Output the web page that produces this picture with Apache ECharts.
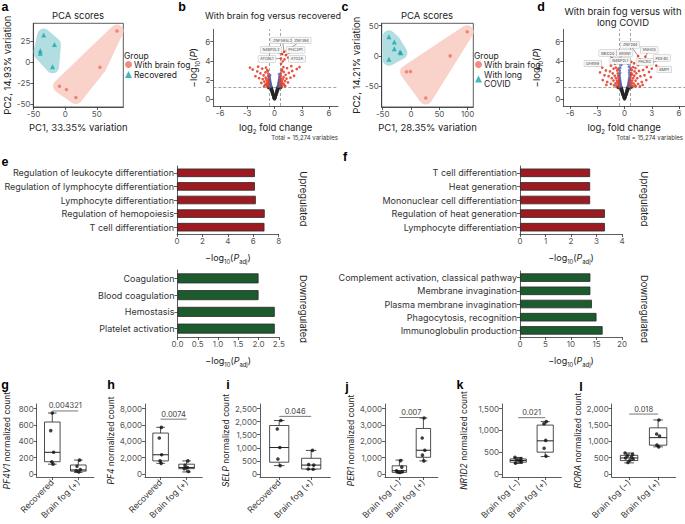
<!DOCTYPE html>
<html><head><meta charset="utf-8">
<script src="https://cdn.jsdelivr.net/npm/echarts@6/dist/echarts.min.js"></script>
<style>html,body{margin:0;padding:0;background:#fff}#c{width:685px;height:524px}</style>
</head><body><div id="c"></div>
<script>
const FONT = 'Inter, "Open Sans", sans-serif';
// ---------- a: PCA, with brain fog vs recovered
const pcaAFog = [[82,37],[55,-6],[-9,-28.5],[2,-32.5],[17,-42]];
const pcaARec = [[-34,32],[-17,21],[-39.5,13.5],[-39.5,10.5],[-20,-5.5]];
const pcaATicksX = [-50,0,50];
const pcaATicksY = [-50,-25,0,25];
// ---------- c: PCA, with brain fog vs long COVID
const pcaCFog = [[99,40],[69,0],[-1,-26],[-8,-26.5],[26,-70]];
const pcaCLong = [[-39,31.5],[-29.5,23],[-29.5,12],[-19.5,6.5],[-18,5],[-39,-5.5]];
const pcaCTicksX = [-50,0,50,100];
const pcaCTicksY = [-50,0,50];
// ---------- volcano axes
const volcTicksX = [-6,-3,0,3,6];
const volcTicksY = [0,2,4,6];
// ---------- b: volcano, brain fog vs recovered
const volcBBlack = [[0,0.02],[-0.03,0.1],[0.03,0.08],[-0.06,0.2],[0.06,0.18],[-0.09,0.3],[0.09,0.32],[-0.12,0.42],[0.12,0.4],[-0.15,0.52],[0.15,0.54],[-0.18,0.62],[0.18,0.64],[-0.21,0.74],[0.21,0.72],[-0.24,0.84],[0.24,0.86],[-0.27,0.95],[0.27,0.93],[-0.3,1.05],[0.3,1.07],[-0.33,1.15],[0.33,1.17],[-0.36,1.25],[0.36,1.24],[-0.1,0.22],[0.1,0.24],[-0.17,0.45],[0.17,0.43],[-0.23,0.66],[0.23,0.64],[-0.3,0.85],[0.3,0.83],[-0.37,1.04],[0.37,1.02],[-0.44,1.2],[0.44,1.18],[-0.08,0.12],[0.08,0.14],[-0.2,0.5],[0.2,0.52],[-0.28,0.72],[0.28,0.74],[-0.35,0.92],[0.35,0.94],[-0.42,1.1],[0.42,1.12],[-0.5,1.22],[0.5,1.25],[-0.62,1.18],[0.64,1.2],[-0.7,1.26],[0.72,1.24]];
const volcBBlue = [[-0.38,1.35],[0.38,1.34],[-0.4,1.45],[0.41,1.47],[-0.43,1.56],[0.43,1.58],[-0.45,1.68],[0.46,1.7],[-0.48,1.8],[0.48,1.82],[-0.5,1.93],[0.5,1.95],[-0.52,2.06],[0.53,2.08],[-0.54,2.2],[0.55,2.22],[-0.56,2.36],[0.56,2.38],[-0.47,1.4],[0.48,1.42],[-0.52,1.55],[0.53,1.6],[-0.55,1.75],[0.56,1.8],[-0.57,1.95],[0.57,2.0],[-0.5,2.5],[0.52,2.6]];
const volcBRed = [[-0.6,1.35],[-0.62,1.55],[-0.64,1.75],[-0.63,1.95],[-0.66,2.15],[-0.7,2.4],[-0.72,1.45],[-0.76,1.65],[-0.8,1.85],[-0.84,1.4],[-0.88,2.05],[-0.92,1.6],[-0.98,2.25],[-1.05,1.5],[-1.12,1.85],[-1.2,2.5],[-1.3,2.1],[-1.45,1.7],[-1.55,2.7],[-1.7,2.2],[-1.9,2.9],[-2.1,2.4],[-2.4,3.1],[-1.0,2.8],[-0.8,3.05],[-0.68,2.65],[-1.35,3.2],[-1.8,3.4],[-2.7,3.3],[-0.75,2.9],[-1.15,1.35],[-0.95,3.3],
 [0.6,1.38],[0.62,1.6],[0.64,1.8],[0.65,2.0],[0.67,2.2],[0.7,2.45],[0.73,1.5],[0.77,1.7],[0.8,1.9],[0.85,1.42],[0.9,2.1],[0.93,1.65],[1.0,2.3],[1.07,1.52],[1.15,1.9],[1.22,2.55],[1.32,2.15],[1.48,1.75],[1.58,2.75],[1.75,2.25],[1.95,2.95],[2.15,2.45],[2.45,3.15],[1.02,2.85],[0.82,3.1],[0.69,2.7],[1.38,3.25],[1.85,3.45],[2.75,3.35],[0.78,2.95],[1.18,1.36],[0.98,3.35],[0.72,3.7],[0.9,3.95],[1.1,4.15]];
const volcBGenes = ['ZNF595L2','ZNF394','N4BP2L2','PHC3P1','ATG9L1','ATG2A'];
const volcBGenePts = [[1.05,4.95],[1.35,5.05],[0.85,4.7],[1.25,4.6],[0.7,4.25],[1.5,4.35]];
const volcBGeneLabelAt = [[0.88,6.13],[2.97,6.13],[-0.39,5.14],[2.31,5.14],[-0.83,4.2],[2.48,4.2]];
// ---------- d: volcano, brain fog vs long COVID
const volcDBlack = [[0,0.02],[-0.03,0.1],[0.03,0.09],[-0.06,0.2],[0.06,0.19],[-0.09,0.31],[0.09,0.3],[-0.12,0.41],[0.12,0.42],[-0.15,0.53],[0.15,0.52],[-0.18,0.63],[0.18,0.62],[-0.21,0.73],[0.21,0.74],[-0.24,0.85],[0.24,0.84],[-0.27,0.94],[0.27,0.95],[-0.3,1.06],[0.3,1.05],[-0.33,1.16],[0.33,1.15],[-0.36,1.24],[0.36,1.26],[-0.1,0.23],[0.1,0.22],[-0.17,0.44],[0.17,0.45],[-0.23,0.65],[0.23,0.66],[-0.3,0.84],[0.3,0.85],[-0.37,1.03],[0.37,1.04],[-0.44,1.19],[0.44,1.2],[-0.2,0.51],[0.2,0.5],[-0.28,0.73],[0.28,0.72],[-0.35,0.93],[0.35,0.92],[-0.42,1.11],[0.42,1.1],[-0.5,1.24],[0.5,1.22],[-0.6,1.2],[0.62,1.18],[-0.75,1.25],[0.8,1.27]];
const volcDBlue = [[-0.4,1.35],[0.4,1.36],[-0.42,1.5],[0.43,1.52],[-0.45,1.65],[0.45,1.67],[-0.47,1.8],[0.48,1.82],[-0.5,1.95],[0.5,1.97],[-0.52,2.1],[0.52,2.12],[-0.53,2.3],[0.54,2.3],[-0.55,2.5],[0.55,2.55],[-0.5,2.75],[0.52,2.8],[-0.54,3.0],[0.54,3.05],[-0.45,1.42],[0.47,1.45],[-0.5,1.6],[0.51,1.62],[-0.53,1.85],[0.54,1.88],[-0.48,3.3],[0.5,3.4],[-0.35,3.6],[0.42,3.7],[-0.25,3.9]];
const volcDRed = [[-0.58,1.35],[-0.6,1.55],[-0.62,1.75],[-0.64,1.95],[-0.66,2.2],[-0.7,2.45],[-0.74,2.7],[-0.72,1.45],[-0.78,1.7],[-0.84,1.95],[-0.9,1.4],[-0.95,2.2],[-1.0,1.65],[-1.08,2.45],[-1.15,1.45],[-1.22,1.95],[-1.3,2.7],[-1.4,2.2],[-1.5,1.6],[-1.6,2.9],[-1.75,2.4],[-1.9,1.8],[-2.05,3.0],[-2.2,2.5],[-2.45,3.3],[-2.7,2.8],[-3.0,3.5],[-0.8,3.0],[-0.95,3.3],[-1.2,3.2],[-1.5,3.5],[-1.05,3.7],[-0.68,3.2],[-2.0,1.5],[-2.4,2.0],
 [0.58,1.35],[0.6,1.55],[0.62,1.75],[0.64,2.0],[0.66,2.25],[0.7,2.5],[0.74,2.75],[0.72,1.45],[0.78,1.7],[0.84,1.95],[0.9,1.4],[0.95,2.2],[1.0,1.65],[1.08,2.45],[1.15,1.45],[1.22,1.95],[1.3,2.7],[1.4,2.2],[1.5,1.6],[1.6,2.95],[1.75,2.4],[1.9,1.8],[2.05,3.05],[2.2,2.5],[2.45,3.35],[2.7,2.85],[3.0,3.2],[0.8,3.05],[0.95,3.35],[1.2,3.25],[1.5,3.55],[1.05,3.75],[0.68,3.25],[2.0,1.5],[2.4,2.0],[2.9,2.3],[1.7,1.35],[1.25,1.35],[0.85,2.6],[1.1,2.9]];
const volcDGenes = ['ZNF284','SNHG5','MED20','SRXN1','PDE4D','N4BP2L1','PACRG','DHRS9','BMP1'];
const volcDGenePts = [[1.5,4.5],[2.3,4.45],[-1.4,4.3],[-0.7,4.15],[3.0,3.75],[0.75,3.9],[1.7,4.15],[-2.7,3.85],[3.5,3.5]];
const volcDGeneLabelAt = [[0.63,5.66],[2.72,5.14],[-1.85,4.82],[0.02,4.82],[4.1,4.3],[-0.47,3.99],[2.22,3.89],[-3.5,3.73],[4.37,3.1]];
// ---------- e / f: enrichment bars
const eUpCats = ['Regulation of leukocyte differentiation','Regulation of lymphocyte differentiation','Lymphocyte differentiation','Regulation of hemopoiesis','T cell differentiation'];
const eUpVals = [6.13,6.13,6.2,6.9,6.88];
const eUpTicks = [0,2,4,6,8];
const eDownCats = ['Coagulation','Blood coagulation','Hemostasis','Platelet activation'];
const eDownVals = [2.0,2.0,2.4,2.4];
const eDownTicks = [0,0.5,1,1.5,2,2.5];
const fUpCats = ['T cell differentiation','Heat generation','Mononuclear cell differentiation','Regulation of heat generation','Lymphocyte differentiation'];
const fUpVals = [2.75,2.75,2.75,3.33,3.33];
const fUpTicks = [0,1,2,3,4];
const fDownCats = ['Complement activation, classical pathway','Membrane invagination','Plasma membrane invagination','Phagocytosis, recognition','Immunoglobulin production'];
const fDownVals = [13.8,13.8,14.1,15.0,16.2];
const fDownTicks = [0,5,10,15,20];
// ---------- g-l: box plots  (box = [min, q1, median, q3, max])
const gCats = ['Recovered','Brain fog (+)'];
const gBox = [[120,150,265,635,745],[20,35,50,110,170]];
const gPts = [[745,530,265,150,120],[170,95,55,40,25]];
const gTicks = [0,200,400,600,800];
const gP = '0.004321';
const hCats = ['Recovered','Brain fog (+)'];
const hBox = [[1300,1600,2350,5000,5700],[250,650,800,1200,1600]];
const hPts = [[5700,4400,2350,1600,1300],[1600,1050,800,650,300]];
const hTicks = [0,2000,4000,6000,8000];
const hP = '0.0074';
const iCats = ['Recovered','Brain fog (+)'];
const iBox = [[320,450,1010,1850,2040],[180,190,340,600,900]];
const iPts = [[2040,1720,1010,570,320],[900,360,340,190,180]];
const iTicks = [0,500,1000,1500,2000,2500];
const iP = '0.046';
const jCats = ['Brain fog (\u2212)','Brain fog (+)'];
const jBox = [[60,100,200,500,850],[800,1020,1450,2780,3420]];
const jPts = [[820,420,200,150,120,90],[3420,2200,1450,1150,800]];
const jTicks = [0,1000,2000,3000,4000];
const jP = '0.007';
const kCats = ['Brain fog (\u2212)','Brain fog (+)'];
const kBox = [[240,270,310,345,380],[400,500,760,1120,1200]];
const kPts = [[380,350,320,300,280,250],[1200,1150,770,590,410]];
const kTicks = [0,500,1000,1500];
const kP = '0.021';
const lCats = ['Brain fog (\u2212)','Brain fog (+)'];
const lBox = [[340,410,490,570,640],[830,880,1110,1410,1650]];
const lPts = [[640,600,560,520,490,460,420,350],[1650,1220,1160,880,830]];
const lTicks = [0,500,1000,1500,2000];
const lP = '0.018';

// horizontal scatter of the dots (style, hand-set)
const jitter = {
  g:[[0,-0.06,0.05,-0.02,0.03],[0.05,-0.05,0.08,-0.08,0.02]],
  h:[[0.03,-0.05,0.04,-0.02,0.02],[0.05,-0.06,0.03,-0.09,0.07]],
  i:[[0.05,-0.06,0.02,-0.04,0.03],[0.04,-0.08,0.08,-0.09,0.06]],
  j:[[0.05,0.1,-0.12,0.12,-0.06,0.02],[0.03,-0.05,0.06,-0.04,0.02]],
  k:[[-0.12,0.1,-0.05,0.06,0.12,-0.1],[0.04,-0.05,0.02,-0.04,0.03]],
  l:[[-0.14,0.12,-0.06,0.08,-0.12,0.14,0.03,-0.04],[0.03,-0.05,0.05,-0.04,0.02]]
};

const grids=[], xAxes=[], yAxes=[], series=[], graphics=[];
function addPanel(g,x,y){const i=grids.length;grids.push(g);xAxes.push(Object.assign({gridIndex:i},x));yAxes.push(Object.assign({gridIndex:i},y));return i;}
const LC='#333';
const axLine = {show:true,onZero:false,lineStyle:{color:LC,width:0.8}};
const tick = v=>({show:true,inside:false,length:3,lineStyle:{color:LC,width:0.8},customValues:v});
const lbl = (v,extra)=>Object.assign({show:true,customValues:v,fontSize:8,color:'#555',fontFamily:FONT,margin:3},extra||{});
const nameStyle = (fs)=>({fontSize:fs,color:'#222',fontFamily:FONT,rich:{
  n:{fontSize:fs,color:'#222',fontFamily:FONT},
  i:{fontSize:fs,color:'#222',fontFamily:FONT,fontStyle:'italic'},
  s:{fontSize:fs*0.65,color:'#222',fontFamily:FONT,verticalAlign:'bottom',lineHeight:fs*1.5},
  si:{fontSize:fs*0.65,color:'#222',fontFamily:FONT,verticalAlign:'bottom',lineHeight:fs*1.5}
}});
function txt(x,y,text,opt){graphics.push({type:'text',x:x,y:y,silent:true,rotation:(opt&&opt.rot)||0,style:Object.assign({text:text,fontSize:9,fill:'#222',fontFamily:FONT,align:'center',verticalAlign:'middle'},opt&&opt.style)});}

function hull(pts){
  const p=pts.slice().sort((a,b)=>a[0]-b[0]||a[1]-b[1]);
  const cr=(o,a,b)=>(a[0]-o[0])*(b[1]-o[1])-(a[1]-o[1])*(b[0]-o[0]);
  const lo=[],up=[];
  for(const q of p){while(lo.length>=2&&cr(lo[lo.length-2],lo[lo.length-1],q)<=0)lo.pop();lo.push(q);}
  for(let k=p.length-1;k>=0;k--){const q=p[k];while(up.length>=2&&cr(up[up.length-2],up[up.length-1],q)<=0)up.pop();up.push(q);}
  up.pop();lo.pop();return lo.concat(up);
}
function hullSeries(idx,pts,color){
  return {type:'custom',xAxisIndex:idx,yAxisIndex:idx,silent:true,z:1,clip:false,data:[pts[0]],
    renderItem:(params,api)=>({type:'polygon',shape:{points:hull(pts.map(p=>api.coord(p)))},
      style:{fill:color,stroke:color,lineWidth:13,lineJoin:'round'}})};
}

// ---- PCA panels
function pcaPanel(g,xr,yr,tx,ty,xname,yname,ygap,fogPts,otherPts,otherName){
  const i=addPanel(Object.assign({show:true,borderColor:LC,borderWidth:0.8},g),
    {type:'value',min:xr[0],max:xr[1],axisLine:axLine,axisTick:tick(tx),axisLabel:lbl(tx),splitLine:{show:false},
     name:xname,nameLocation:'middle',nameGap:15,nameTextStyle:nameStyle(9.5)},
    {type:'value',min:yr[0],max:yr[1],axisLine:axLine,axisTick:tick(ty),axisLabel:lbl(ty),splitLine:{show:false},
     name:yname,nameLocation:'middle',nameGap:ygap,nameTextStyle:nameStyle(9.5)});
  series.push(hullSeries(i,fogPts,'#F9D2CA'));
  series.push(hullSeries(i,otherPts,'#B3DEE1'));
  series.push({type:'scatter',name:'With brain fog',xAxisIndex:i,yAxisIndex:i,symbol:'circle',symbolSize:3.5,z:3,itemStyle:{color:'#EE6F63'},data:fogPts});
  series.push({type:'scatter',name:otherName,xAxisIndex:i,yAxisIndex:i,symbol:'triangle',symbolSize:5,z:3,itemStyle:{color:'#13A6AD'},data:otherPts});
}
pcaPanel({left:33.3,top:23.3,width:90,height:83.7},[-50.5,92],[-53.2,46],pcaATicksX,pcaATicksY,'PC1, 33.35% variation','PC2, 14.93% variation',21,pcaAFog,pcaARec,'Recovered');
pcaPanel({left:381.7,top:23.3,width:91.6,height:83.7},[-51.8,109.9],[-84.8,54],pcaCTicksX,pcaCTicksY,'PC1, 28.35% variation','PC2, 14.21% variation',20,pcaCFog,pcaCLong,'With long COVID');

// ---- volcano panels
function volcPanel(g,xr,ygap,black,blue,red,genes,genePts,labelAt){
  const i=addPanel(g,
    {type:'value',min:xr[0],max:xr[1],axisLine:axLine,axisTick:tick(volcTicksX),axisLabel:lbl(volcTicksX),splitLine:{show:false},
     name:'{n|log}{s|2}{n| fold change}',nameLocation:'middle',nameGap:14,nameTextStyle:nameStyle(9.5)},
    {type:'value',min:-0.7,max:7.29,axisLine:axLine,axisTick:tick(volcTicksY),axisLabel:lbl(volcTicksY),splitLine:{show:false},
     name:'{n|\u2212log}{s|10}{n|(}{i|P}{n|)}',nameLocation:'middle',nameGap:ygap,nameTextStyle:nameStyle(9.5)});
  series.push({type:'scatter',xAxisIndex:i,yAxisIndex:i,symbolSize:3.2,itemStyle:{color:'#262626'},data:black,z:3,
    markLine:{silent:true,symbol:'none',label:{show:false},lineStyle:{type:[3,2],color:'#666',width:0.6},
      data:[{xAxis:-0.58},{xAxis:0.58},{yAxis:1.3}]}});
  series.push({type:'scatter',xAxisIndex:i,yAxisIndex:i,symbolSize:2.9,itemStyle:{color:'#3F63C2'},data:blue,z:3});
  series.push({type:'scatter',xAxisIndex:i,yAxisIndex:i,symbolSize:2.7,itemStyle:{color:'#E8402F',opacity:0.9},data:red,z:3});
  series.push({type:'custom',xAxisIndex:i,yAxisIndex:i,z:5,clip:false,data:genePts.map((p,k)=>[p[0],p[1],labelAt[k][0],labelAt[k][1]]),
    renderItem:(params,api)=>{
      const p=api.coord([api.value(0),api.value(1)]);const l=api.coord([api.value(2),api.value(3)]);
      return {type:'group',children:[
        {type:'line',shape:{x1:p[0],y1:p[1],x2:l[0],y2:l[1]},style:{stroke:'#333',lineWidth:0.5}},
        {type:'circle',shape:{cx:p[0],cy:p[1],r:1.3},style:{fill:'#E8402F'}},
        {type:'text',x:l[0],y:l[1],style:{text:genes[params.dataIndex],fontSize:3.8,fill:'#444',fontFamily:FONT,align:'center',verticalAlign:'middle',
          backgroundColor:'#f7f7f7',borderColor:'#aaa',borderWidth:0.4,padding:[1,2]}}]};
    }});
}
volcPanel({left:213.3,top:29.3,width:124.7,height:76.7},[-6.74,6.99],13,volcBBlack,volcBBlue,volcBRed,volcBGenes,volcBGenePts,volcBGeneLabelAt);
volcPanel({left:563.3,top:29.3,width:121.7,height:76.7},[-6.74,6.66],20,volcDBlack,volcDBlue,volcDRed,volcDGenes,volcDGenePts,volcDGeneLabelAt);

// ---- enrichment bar panels
const padjName='{n|\u2212log}{s|10}{n|(}{i|P}{si|adj}{n|)}';
function barPanel(g,max,ticks,cats,vals,color,bw){
  const i=addPanel(g,
    {type:'value',min:0,max:max,axisLine:axLine,axisTick:tick(ticks),axisLabel:lbl(ticks,{formatter:v=>String(ticks.some(t=>t%1)?v.toFixed(1):v)}),splitLine:{show:false},
     name:padjName,nameLocation:'middle',nameGap:17,nameTextStyle:nameStyle(9)},
    {type:'category',data:cats,inverse:true,axisLine:axLine,axisTick:{show:true,length:3,alignWithLabel:true,lineStyle:{color:LC,width:0.8}},
     axisLabel:{fontSize:9,color:'#333',fontFamily:FONT,margin:3}});
  series.push({type:'bar',xAxisIndex:i,yAxisIndex:i,data:vals,barWidth:bw,itemStyle:{color:color,borderColor:'#2b2b2b',borderWidth:0.8}});
}
barPanel({left:177,top:166,width:101.7,height:68},8,eUpTicks,eUpCats,eUpVals,'#9C1B21',8.5);
barPanel({left:177.5,top:270,width:101.3,height:67},2.5,eDownTicks,eDownCats,eDownVals,'#1C5B2E',10);
barPanel({left:520,top:166,width:102,height:68},4,fUpTicks,fUpCats,fUpVals,'#9C1B21',8.5);
barPanel({left:520,top:271,width:102,height:66},20,fDownTicks,fDownCats,fDownVals,'#1C5B2E',8.5);

// ---- box plot panels
function boxPanel(left,s,top,bottom,ticks,cats,box,pts,jit,pval,brY,gene,ygap){
  const T=ticks[ticks.length-1];
  const H=bottom-top;
  const pxPer=(H-7.5)/T;
  const yMin=-3/pxPer, yMax=T+4.5/pxPer;
  const i=addPanel({left:left,top:top,width:2.2*s,height:H},
    {type:'value',min:-0.6,max:1.6,axisLine:axLine,axisTick:tick([0,1]),
     axisLabel:{show:true,customValues:[0,1],rotate:45,fontSize:8.5,color:'#333',fontFamily:FONT,margin:4,formatter:v=>cats[Math.round(v)]},splitLine:{show:false}},
    {type:'value',min:yMin,max:yMax,axisLine:axLine,axisTick:tick(ticks),axisLabel:lbl(ticks,{formatter:v=>v.toLocaleString('en-US')}),splitLine:{show:false},
     name:'{i|'+gene+'}{n| normalized count}',nameLocation:'middle',nameGap:ygap,nameTextStyle:nameStyle(8.5)});
  series.push({type:'custom',xAxisIndex:i,yAxisIndex:i,z:2,data:box.map((b,c)=>[c].concat(b)),
    renderItem:(params,api)=>{
      const c=api.value(0);const hw=api.size([0.6,0])[0]/2;const cw=hw*0.55;
      const y=k=>api.coord([c,api.value(k)])[1];const x=api.coord([c,0])[0];
      const st={stroke:'#222',lineWidth:0.8,fill:'none'};
      return {type:'group',children:[
        {type:'line',shape:{x1:x,y1:y(4),x2:x,y2:y(5)},style:st},
        {type:'line',shape:{x1:x,y1:y(1),x2:x,y2:y(2)},style:st},
        {type:'line',shape:{x1:x-cw,y1:y(5),x2:x+cw,y2:y(5)},style:st},
        {type:'line',shape:{x1:x-cw,y1:y(1),x2:x+cw,y2:y(1)},style:st},
        {type:'rect',shape:{x:x-hw,y:y(4),width:2*hw,height:y(2)-y(4)},style:{stroke:'#222',lineWidth:0.8,fill:'#fff'}},
        {type:'line',shape:{x1:x-hw,y1:y(3),x2:x+hw,y2:y(3)},style:{stroke:'#222',lineWidth:1}}]};
    }});
  const dots=[];pts.forEach((arr,c)=>arr.forEach((v,k)=>dots.push([c+jit[c][k],v])));
  series.push({type:'scatter',xAxisIndex:i,yAxisIndex:i,z:4,symbolSize:3.6,itemStyle:{color:'#111'},data:dots});
  series.push({type:'custom',xAxisIndex:i,yAxisIndex:i,z:4,clip:false,data:[[0,brY]],
    renderItem:(params,api)=>{
      const a=api.coord([0,api.value(1)]),b=api.coord([1,api.value(1)]);
      return {type:'group',children:[
        {type:'line',shape:{x1:a[0],y1:a[1],x2:b[0],y2:b[1]},style:{stroke:'#555',lineWidth:0.8}},
        {type:'text',x:(a[0]+b[0])/2,y:a[1]-5,style:{text:pval,fontSize:7.5,fill:'#444',fontFamily:FONT,align:'center',verticalAlign:'middle'}}]};
    }});
}
boxPanel(36.7,26,404,477,gTicks,gCats,gBox,gPts,jitter.g,gP,770,'PF4V1',25);
boxPanel(145,26,404,477,hTicks,hCats,hBox,hPts,jitter.h,hP,6700,'PF4',29);
boxPanel(260,32,404,477,iTicks,iCats,iBox,iPts,jitter.i,iP,2200,'SELP',21);
boxPanel(385,24,404,477,jTicks,jCats,jBox,jPts,jitter.j,jP,3450,'PER1',19);
boxPanel(502,27,404,477,kTicks,kCats,kBox,kPts,jitter.k,kP,1290,'NR1D2',34);
boxPanel(611.7,29,404,477,lTicks,lCats,lBox,lPts,jitter.l,lP,1830,'RORA',26);

// ---- free text
const LET={fontSize:12.5,fontWeight:'bold',fill:'#000',fontFamily:'"Liberation Sans", Arial, sans-serif'};
[['a',5,7],['b',182,7],['c',345,7],['d',541,7],['e',5,162],['f',345,157],['g',5,385],['h',111,385],['i',228,385],['j',347,387],['k',460,385],['l',581,387]]
  .forEach(t=>txt(t[1],t[2],t[0],{style:LET}));
txt(78,15,'PCA scores',{style:{fontSize:9.5}});
txt(427,15,'PCA scores',{style:{fontSize:9.5}});
txt(273,15,'With brain fog versus recovered',{style:{fontSize:9}});
txt(623,11,'With brain fog versus with',{style:{fontSize:9.5}});
txt(623,22,'long COVID',{style:{fontSize:9.5}});
txt(338,137,'Total = 15,274 variables',{style:{fontSize:6,align:'right',fill:'#333'}});
txt(683,137,'Total = 15,274 variables',{style:{fontSize:6,align:'right',fill:'#333'}});
txt(124,56,'Group',{style:{fontSize:8.5,align:'left'}});
txt(474,56,'Group',{style:{fontSize:8.5,align:'left'}});
[[303,199,'Upregulated'],[303,309,'Downregulated'],[644,199,'Upregulated'],[644,309,'Downregulated']]
  .forEach(t=>txt(t[0],t[1],t[2],{rot:-Math.PI/2,style:{fontSize:9.5}}));

const legendBase={orient:'vertical',itemWidth:7,itemHeight:7,itemGap:1,padding:0,
  textStyle:{fontSize:8.5,color:'#222',fontFamily:FONT,padding:[0,0,0,-3]}};
const option={
  animation:false,
  grid:grids,xAxis:xAxes,yAxis:yAxes,series:series,graphic:graphics,
  legend:[Object.assign({left:125,top:60,data:['With brain fog','Recovered']},legendBase),
          Object.assign({left:475,top:60,data:['With brain fog','With long COVID'],formatter:n=>n==='With long COVID'?'With long\nCOVID':n},legendBase)]
};
const chart=echarts.init(document.getElementById('c'),null,{renderer:'svg'});
chart.setOption(option);
</script></body></html>
